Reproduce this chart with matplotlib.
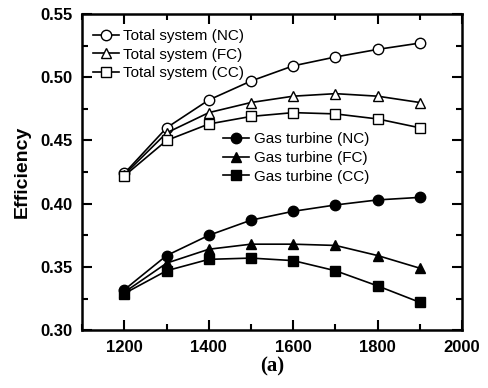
import matplotlib.pyplot as plt
from matplotlib.ticker import MultipleLocator

temps = [1200, 1300, 1400, 1500, 1600, 1700, 1800, 1900]
total_nc = [0.424, 0.460, 0.482, 0.497, 0.509, 0.516, 0.522, 0.527]
total_fc = [0.423, 0.456, 0.472, 0.480, 0.485, 0.487, 0.485, 0.480]
total_cc = [0.422, 0.450, 0.463, 0.469, 0.472, 0.471, 0.467, 0.460]
gt_nc = [0.332, 0.359, 0.375, 0.387, 0.394, 0.399, 0.403, 0.405]
gt_fc = [0.330, 0.353, 0.364, 0.368, 0.368, 0.367, 0.359, 0.349]
gt_cc = [0.329, 0.347, 0.356, 0.357, 0.355, 0.347, 0.335, 0.322]

plt.rcParams['font.family'] = 'Liberation Sans'

fig = plt.figure(figsize=(4.89, 3.88), dpi=100)
ax = fig.add_axes([0.168, 0.149, 0.777, 0.815])

kw = dict(color='black', linewidth=1.2, markersize=7.5, markeredgewidth=1.0)
h1, = ax.plot(temps, total_nc, marker='o', markerfacecolor='white', label='Total system (NC)', **kw)
h2, = ax.plot(temps, total_fc, marker='^', markerfacecolor='white', label='Total system (FC)', **kw)
h3, = ax.plot(temps, total_cc, marker='s', markerfacecolor='white', label='Total system (CC)', **kw)
h4, = ax.plot(temps, gt_nc, marker='o', label='Gas turbine (NC)', **kw)
h5, = ax.plot(temps, gt_fc, marker='^', label='Gas turbine (FC)', **kw)
h6, = ax.plot(temps, gt_cc, marker='s', label='Gas turbine (CC)', **kw)

ax.set_xlim(1100, 2000)
ax.set_ylim(0.30, 0.55)
ax.xaxis.set_minor_locator(MultipleLocator(100))
ax.yaxis.set_major_locator(MultipleLocator(0.05))
ax.yaxis.set_minor_locator(MultipleLocator(0.025))
ax.set_xticks([1200, 1400, 1600, 1800, 2000])
ax.tick_params(which='both', direction='in', top=True, right=True, width=1.5)
ax.tick_params(which='major', length=7.5, labelsize=12, pad=7)
ax.tick_params(which='minor', length=4)
for lab in ax.get_xticklabels() + ax.get_yticklabels():
    lab.set_fontweight('bold')
for s in ax.spines.values():
    s.set_linewidth(1.8)

ax.set_ylabel('Efficiency', fontsize=14, fontweight='bold', labelpad=7)
ax.set_xlabel('(a)', fontsize=15, fontweight='bold', family='Liberation Serif', labelpad=1)

leg1 = ax.legend(handles=[h1, h2, h3], loc='upper left', frameon=False, fontsize=11,
                 handlelength=1.7, handletextpad=0.3, labelspacing=0.3,
                 borderaxespad=0.0, bbox_to_anchor=(0.012, 0.972))
ax.add_artist(leg1)
ax.legend(handles=[h4, h5, h6], loc='upper left', frameon=False, fontsize=11,
          handlelength=1.7, handletextpad=0.3, labelspacing=0.3,
          borderaxespad=0.0, bbox_to_anchor=(0.355, 0.645))

fig.savefig('out.png', dpi=100)
